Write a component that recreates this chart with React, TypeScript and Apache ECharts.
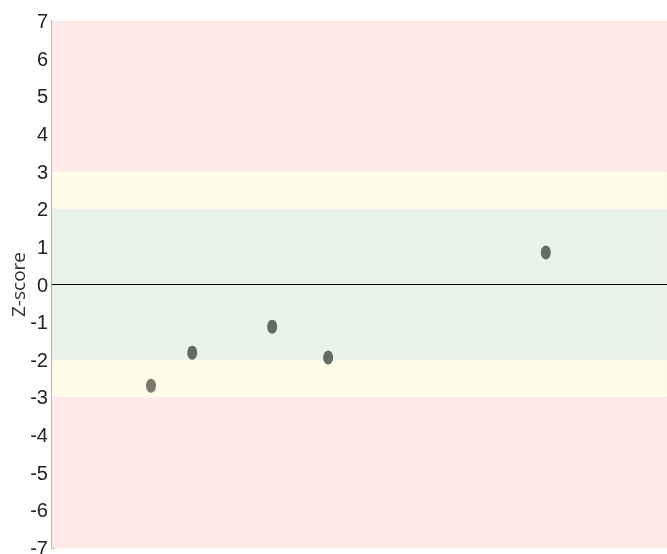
import React, { useEffect, useRef } from "react";
import * as echarts from "echarts";

const xValues = [16.1, 22.8, 35.8, 44.9, 80.3];
const zScores = [-2.69, -1.81, -1.12, -1.94, 0.85];
const pointColors = ["#7a7a6a", "#626c65", "#626c65", "#626c65", "#626c65"];
const yTicks = [-7, -6, -5, -4, -3, -2, -1, 0, 1, 2, 3, 4, 5, 6, 7];
const bands = [
  { from: 3, to: 7, color: "#ffeaea" },
  { from: 2, to: 3, color: "#fffdea" },
  { from: -2, to: 2, color: "#eaf3eb" },
  { from: -3, to: -2, color: "#fffdea" },
  { from: -7, to: -3, color: "#ffeaea" },
];

export default function App() {
  const ref = useRef<HTMLDivElement>(null);
  useEffect(() => {
    if (!ref.current) return;
    const chart = echarts.init(ref.current, null, { renderer: "svg" });
    chart.setOption({
      animation: false,
      grid: { left: 52, right: 0, top: 21, bottom: 6, outerBoundsMode: "none", containLabel: false },
      xAxis: {
        type: "value",
        min: 0,
        max: 100,
        show: false,
      },
      yAxis: {
        type: "value",
        min: yTicks[0],
        max: yTicks[yTicks.length - 1],
        interval: 1,
        name: "Z-score",
        nameLocation: "middle",
        nameGap: 25,
        nameMoveOverlap: false,
        nameTextStyle: { fontFamily: "'Open Sans'", fontSize: 19, color: "#333" },
        axisLine: { show: true, lineStyle: { color: "#b9b1b1", width: 2 } },
        axisTick: { show: true, inside: true, length: 3, lineStyle: { color: "#bbb" } },
        splitLine: { show: false },
        axisLabel: {
          fontFamily: "'Liberation Sans', sans-serif",
          fontSize: 20,
          color: "#222",
          margin: 4,
        },
      },
      series: [
        {
          type: "scatter",
          data: xValues.map((x, i) => ({
            value: [x, zScores[i]],
            itemStyle: { color: pointColors[i], opacity: 1 },
          })),
          symbol: "circle",
          symbolSize: [10, 14],
          itemStyle: { opacity: 1 },
          z: 5,
          markArea: {
            silent: true,
            data: bands.map((b) => [
              { yAxis: b.from, itemStyle: { color: b.color, borderColor: "#f3dada", borderWidth: 0.5, borderType: "dotted" } },
              { yAxis: b.to },
            ]),
          },
          markLine: {
            silent: true,
            symbol: "none",
            label: { show: false },
            lineStyle: { color: "#000", width: 1, type: "solid" },
            data: [{ yAxis: 0 }],
          },
        },
      ],
    });
    return () => chart.dispose();
  }, []);
  return <div ref={ref} style={{ position: "fixed", left: 0, top: 0, width: 667, height: 554 }} />;
}
